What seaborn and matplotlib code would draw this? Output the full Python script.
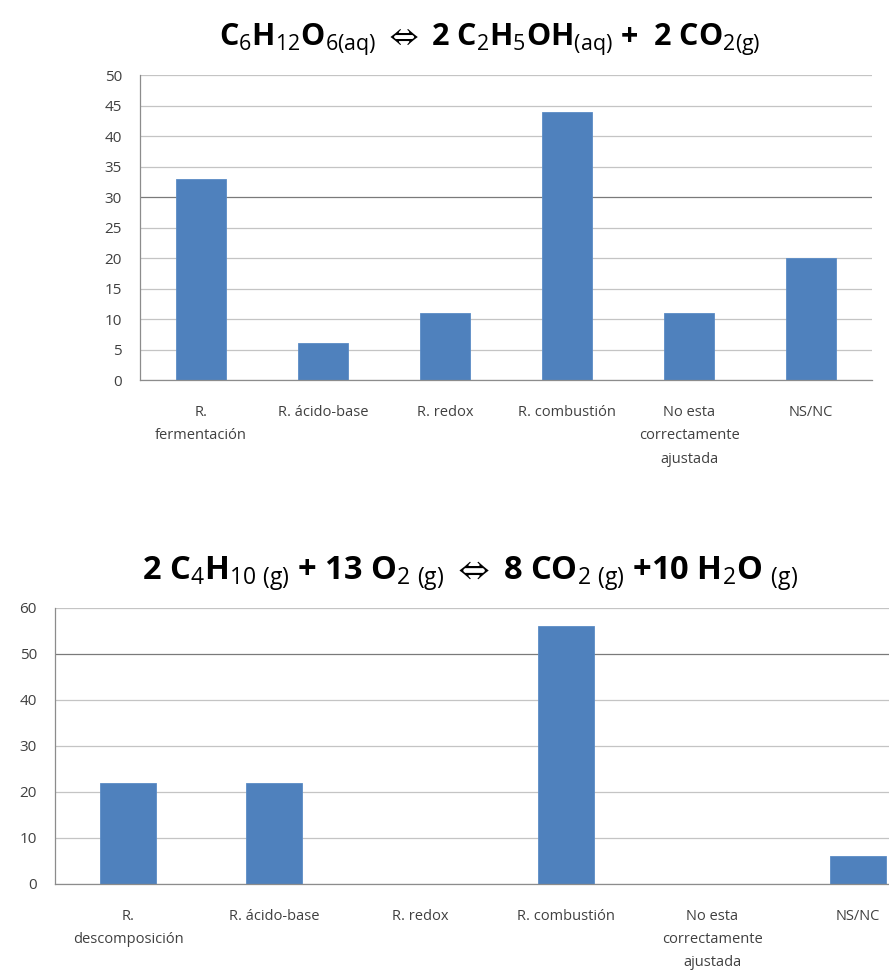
import numpy as np
import pandas as pd
import seaborn as sns
import matplotlib.pyplot as plt

# data
cats_top = ["R.\nfermentación", "R. ácido-base", "R. redox", "R. combustión",
            "No esta\ncorrectamente\najustada", "NS/NC"]
vals_top = [33, 6, 11, 44, 11, 20]
cats_bot = ["R.\ndescomposición", "R. ácido-base", "R. redox", "R. combustión",
            "No esta\ncorrectamente\najustada", "NS/NC"]
vals_bot = [22, 22, 0, 56, 0, 6]

title_top = r"C$_6$H$_{12}$O$_{6(aq)}$ $\Leftrightarrow$ 2 C$_2$H$_5$OH$_{(aq)}$ +  2 CO$_{2(g)}$"
title_bot = r"2 C$_4$H$_{10\ (g)}$ + 13 O$_{2\ (g)}$ $\Leftrightarrow$ 8 CO$_{2\ (g)}$ +10 H$_2$O $_{(g)}$"

sns.set_style("white")
plt.rcParams['font.family'] = ['Open Sans', 'DejaVu Sans']
plt.rcParams['mathtext.fontset'] = 'custom'
plt.rcParams['mathtext.rm'] = 'Open Sans'
plt.rcParams['mathtext.it'] = 'Open Sans'
plt.rcParams['mathtext.fallback'] = 'stixsans'

BAR = '#4F81BD'


def draw(ax, cats, vals, ymax, step, width, dark):
    df = pd.DataFrame({"cat": cats, "val": vals})
    sns.barplot(data=df, x="cat", y="val", color=BAR, width=width, ax=ax,
                saturation=1, edgecolor='#5b8cc6', linewidth=0.6)
    ax.set_ylim(0, ymax)
    ax.set_yticks(np.arange(0, ymax + 1, step))
    ax.set_xlim(-0.5, len(cats) - 0.5)
    ax.set_xlabel("")
    ax.set_ylabel("")
    ax.yaxis.grid(True, color='#c4c4c4', lw=0.9)
    ax.set_axisbelow(True)
    # one gridline is drawn darker in the original
    for t, line in zip(ax.get_yticks(), ax.get_ygridlines()):
        if t == dark:
            line.set_color('#7a7a7a')
    for s in ['top', 'right']:
        ax.spines[s].set_visible(False)
    for s in ['left', 'bottom']:
        ax.spines[s].set_color('#8c8c8c')
        ax.spines[s].set_linewidth(0.9)
    ax.tick_params(axis='both', length=0, colors='#404040')
    ax.tick_params(axis='y', labelsize=11, pad=13)
    ax.tick_params(axis='x', labelsize=10.5, pad=18)
    for lab in ax.get_xticklabels():
        lab.set_linespacing(1.75)


fig = plt.figure(figsize=(8.89, 9.8), dpi=100)

ax1 = fig.add_axes([0.1575, 0.6122, 0.8234, 0.3112])
draw(ax1, cats_top, vals_top, 50, 5, 0.41, 30)

ax2 = fig.add_axes([0.0619, 0.098, 0.9854, 0.2816])
draw(ax2, cats_bot, vals_bot, 60, 10, 0.38, 50)

fig.text(0.551, 0.959, title_top, ha='center', va='center', fontsize=22,
         fontweight='bold', color='black')
fig.text(0.529, 0.415, title_bot, ha='center', va='center', fontsize=23.5,
         fontweight='bold', color='black')

fig.savefig("out.png", dpi=100)
